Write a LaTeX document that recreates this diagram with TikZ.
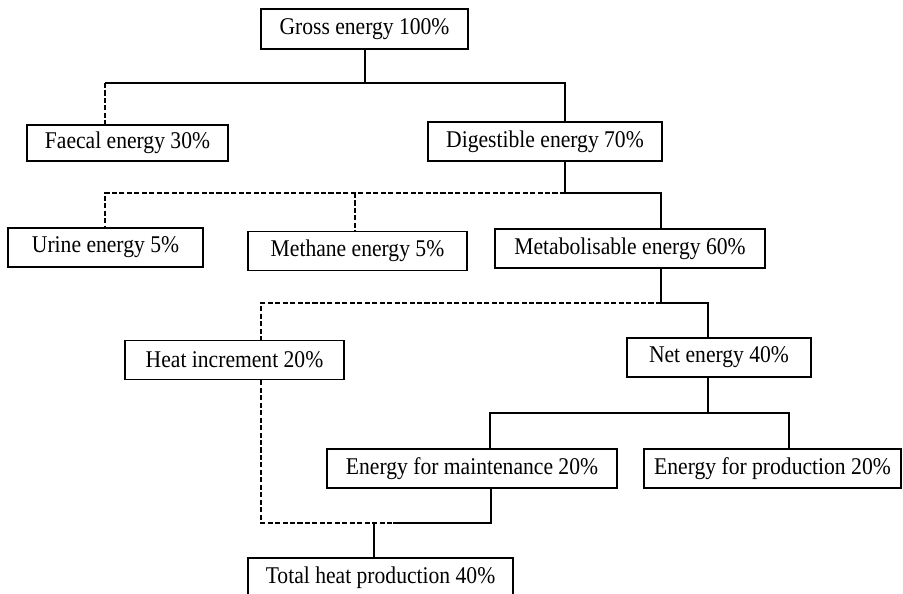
\documentclass[tikz,border=0pt]{standalone}
\usepackage{fontspec}
\setmainfont{Liberation Serif}[FakeStretch=0.9]
\begin{document}
\begin{tikzpicture}[x=0.75pt,y=-0.75pt]
	\tikzset{box/.style={draw, line width=1.1pt, inner sep=0pt, minimum height=29.25pt, font=\fontsize{18}{21}\selectfont}}
	\tikzset{link/.style={line width=1pt}}
	\tikzset{loss/.style={line width=1pt, dash pattern=on 3.8pt off 1.8pt}}
	\useasboundingbox (0,0) rectangle (903,593);

	% Draw the boxes
	\node[box, minimum width=155.25pt, minimum height=30pt] (gross) at (364.5,29) {Gross energy 100\%};
	\node[box, minimum width=150.75pt, minimum height=27pt] (faecal) at (127.5,143) {Faecal energy 30\%};
	\node[box, minimum width=175.5pt] (digest) at (545,141.5) {Digestible energy 70\%};
	\node[box, minimum width=146.25pt] (urine) at (105.5,247.5) {Urine energy 5\%};
	\node[box, minimum width=164.25pt] (methane) at (357.5,251) {Methane energy 5\%};
	\node[box, minimum width=202.5pt] (metab) at (630,248.5) {Metabolisable energy 60\%};
	\node[box, minimum width=164.25pt] (heat) at (234.5,360) {Heat increment 20\%};
	\node[box, minimum width=138pt] (net) at (719,357.5) {Net energy 40\%};
	\node[box, minimum width=217.5pt] (maint) at (472,468.5) {Energy for maintenance 20\%};
	\node[box, minimum width=192.75pt] (prod) at (772.5,468.5) {Energy for production 20\%};
	\node[box, minimum width=198.75pt] (total) at (380.5,577.5) {Total heat production 40\%};

	% Branch points
	\coordinate (g1) at (365,83);
	\coordinate (d1) at (565,193);
	\coordinate (m1) at (661,303);
	\coordinate (n1) at (708,413);
	\coordinate (e1) at (491,523);
	\coordinate (t1) at (374,523);
	\coordinate (t2) at (393,523);

	% Gross energy
	\draw[link] (g1 |- gross.south) -- (g1);
	\draw[link] (105,83) -- (g1) -| (d1 |- digest.north);
	\draw[loss] (105,83) -- (105,0 |- faecal.north);

	% Digestible energy
	\draw[link] (d1 |- digest.south) -- (d1) -| (m1 |- metab.north);
	\draw[loss] (d1) -| (105,0 |- urine.north);
	\draw[loss] (355,0 |- d1) -- (355,0 |- methane.north);

	% Metabolisable energy
	\draw[link] (m1 |- metab.south) -- (m1) -| (n1 |- net.north);
	\draw[loss] (m1) -| (261,0 |- heat.north);

	% Net energy
	\draw[link] (n1 |- net.south) -- (n1);
	\draw[link] (490,0 |- maint.north) |- (n1) -| (789,0 |- prod.north);

	% Heat production
	\draw[loss] (261,0 |- heat.south) |- (t2);
	\draw[link] (e1 |- maint.south) -- (e1) -- (t2);
	\draw[link] (t1) -- (t1 |- total.north);

\end{tikzpicture}
\end{document}
